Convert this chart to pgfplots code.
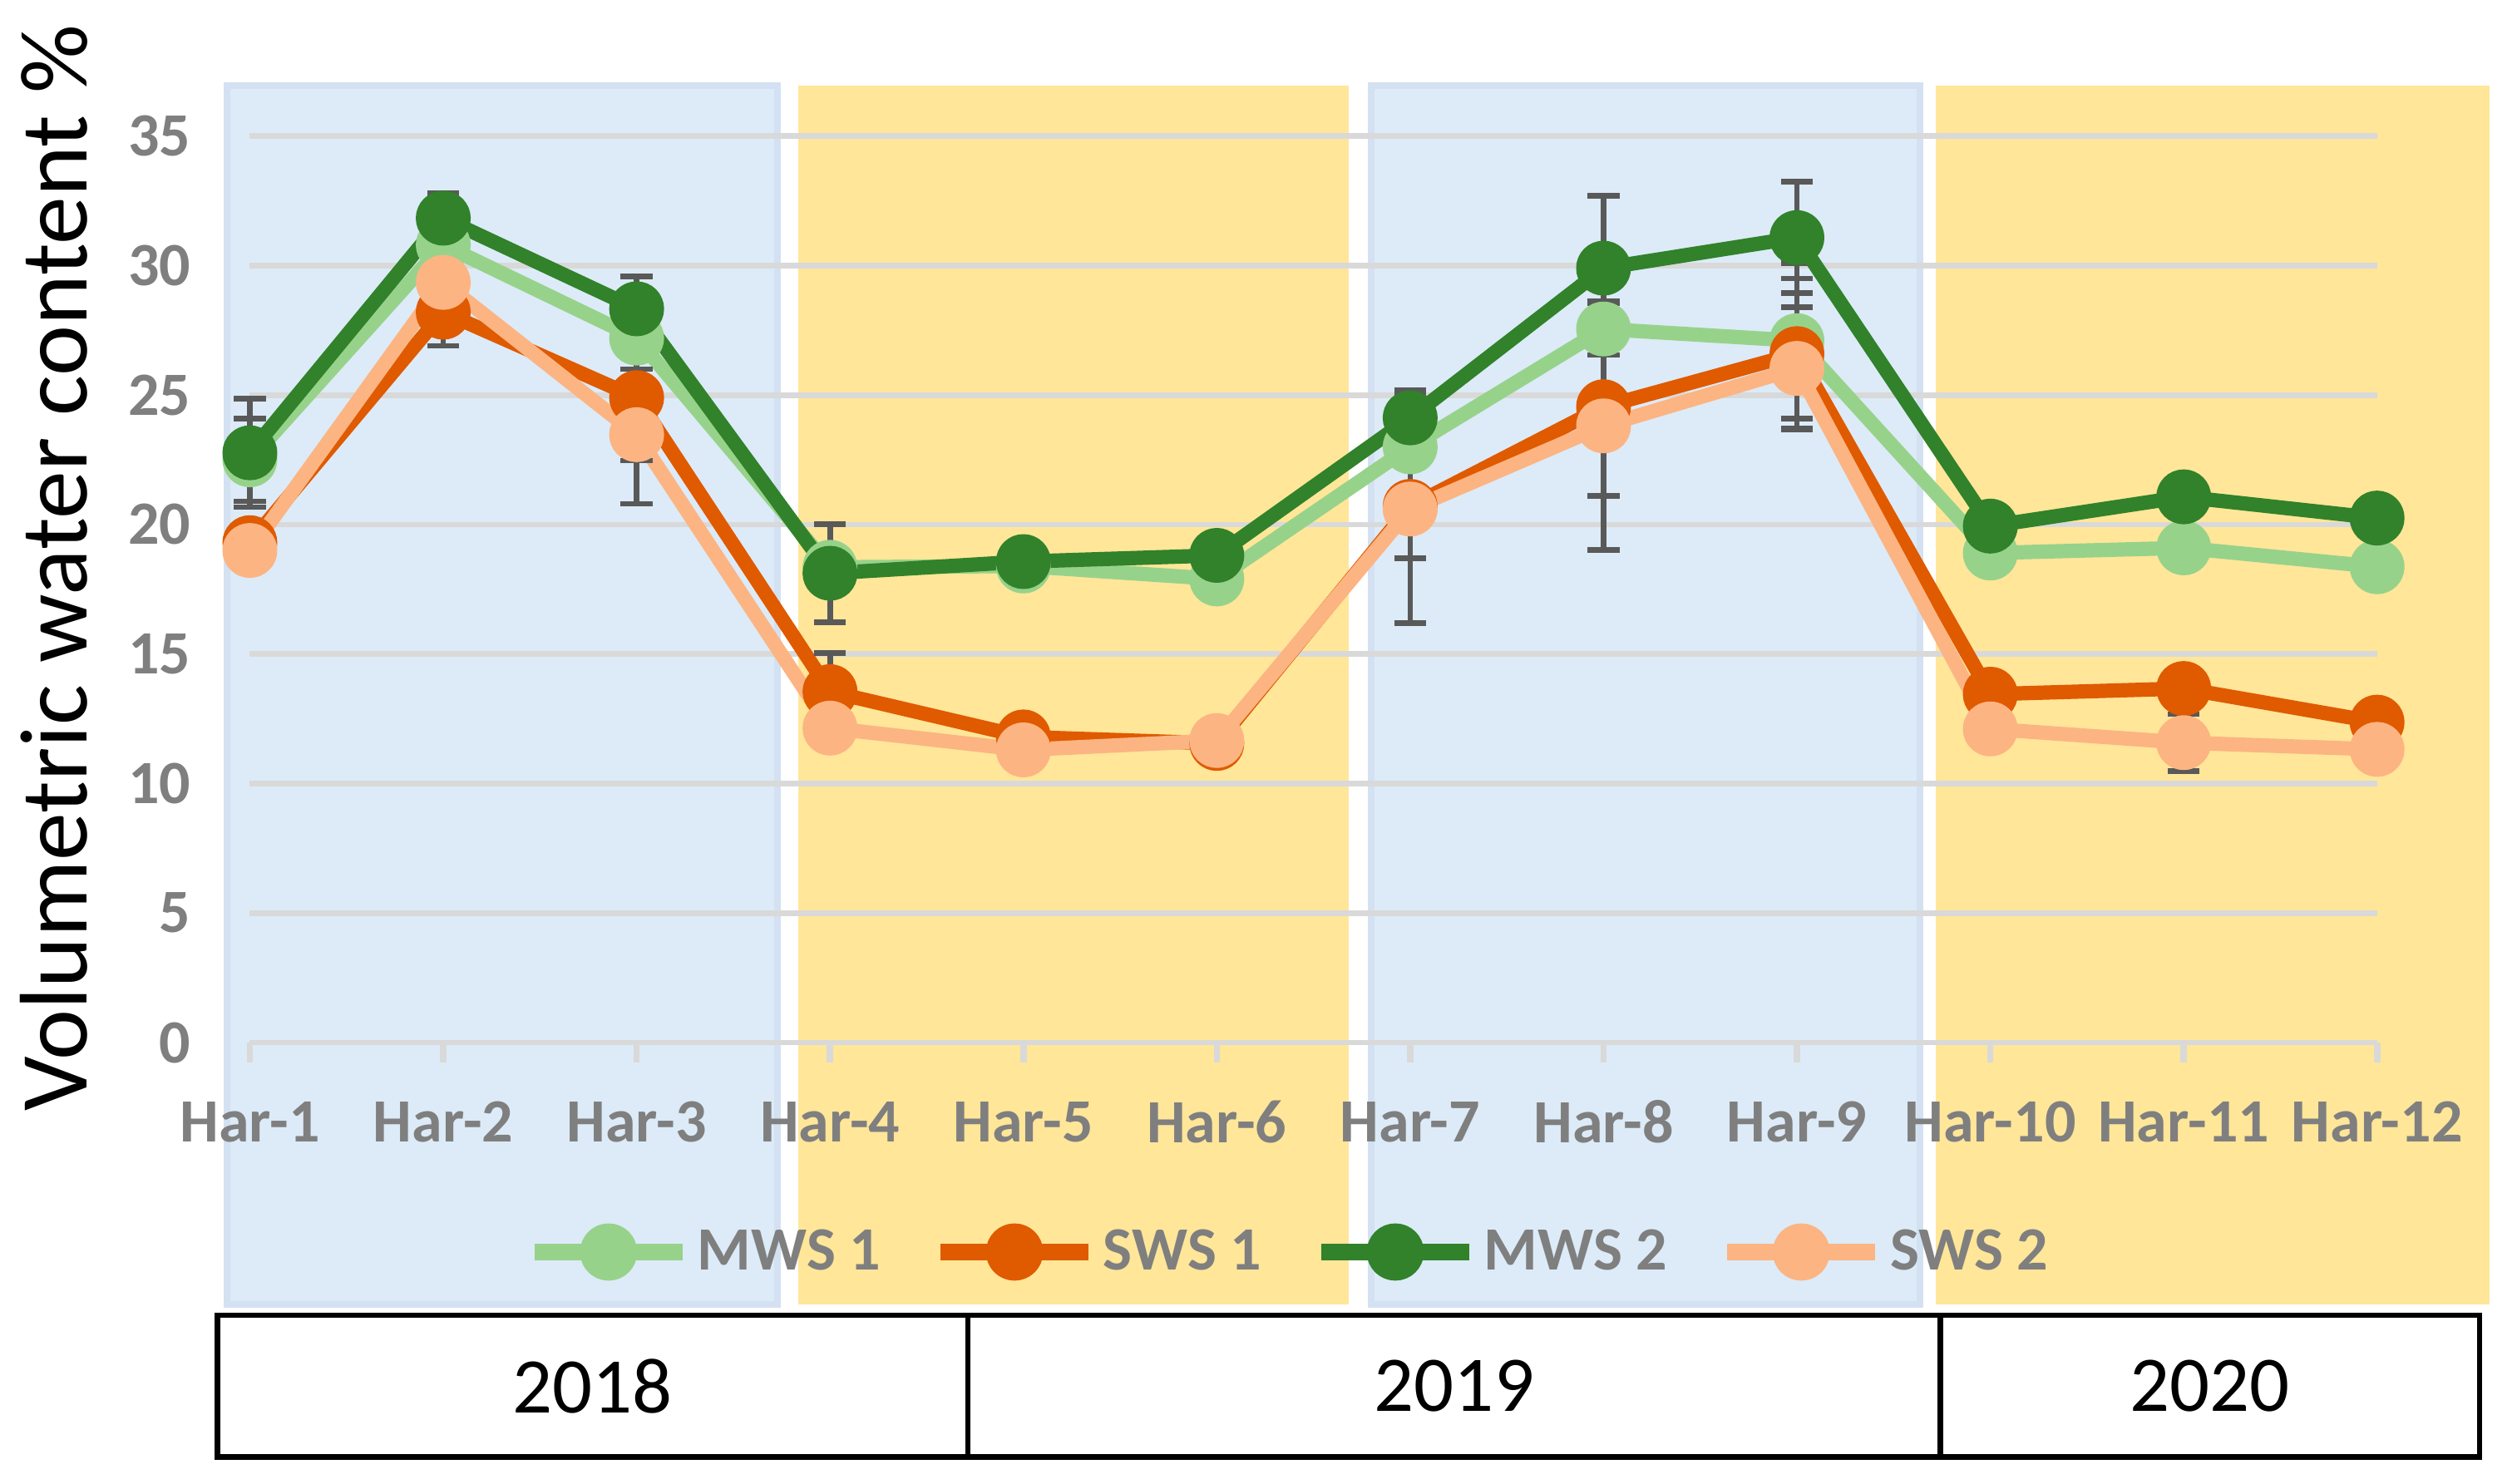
\documentclass[border=0pt]{standalone}
\usepackage{pgfplots}
\pgfplotsset{compat=1.18}
\usepackage{pgfplotstable}
\usepackage{fontspec}
\setmainfont{Carlito}
\definecolor{mwsA}{HTML}{97D28B}
\definecolor{swsA}{HTML}{E05A00}
\definecolor{mwsB}{HTML}{31822A}
\definecolor{swsB}{HTML}{FCB483}
\definecolor{bgblue}{HTML}{DCEBF7}
\definecolor{bgblueedge}{HTML}{D3E1F2}
\definecolor{bgyellow}{HTML}{FFE699}
\definecolor{gridgrey}{HTML}{D9D9D9}
\definecolor{tickgrey}{HTML}{7F7F7F}
\definecolor{errgrey}{HTML}{595959}

\pgfplotstableread{
x y e
0 22.5 1.6
1 30.8 0.8
2 27.2 1.2
3 18.35 0.3
4 18.4 0.2
5 17.9 0.56
6 23.0 0.5
7 27.55 1.0
8 27.1 3.0
9 18.9 0.4
10 19.1 0.64
11 18.37 0.7
}\mwsone
\pgfplotstableread{
x y e
0 19.3 0.5
1 28.2 1.3
2 24.9 4.1
3 13.55 1.5
4 11.8 0.2
5 11.55 0.2
6 20.7 2.0
7 24.55 3.44
8 26.6 2.9
9 13.45 0.5
10 13.67 0.5
11 12.37 0.3
}\swsone
\pgfplotstableread{
x y e
0 22.77 2.1
1 31.83 0.95
2 28.33 1.25
3 18.12 1.9
4 18.57 0.2
5 18.81 0.6
6 24.12 1.05
7 29.9 2.8
8 31.08 2.15
9 19.94 0.7
10 21.07 0.78
11 20.25 0.3
}\mwstwo
\pgfplotstableread{
x y e
0 19.0 0.5
1 29.35 1.6
2 23.47 1.0
3 12.14 0.7
4 11.3 0.2
5 11.66 0.2
6 20.6 4.4
7 23.81 4.8
8 26.03 2.37
9 12.11 0.73
10 11.58 1.1
11 11.32 0.3
}\swstwo

\begin{document}
\begin{tikzpicture}
\begin{axis}[
  set layers,
  at={(0,0)}, anchor=south west,
  scale only axis, width=639.55pt, height=272.58pt,
  xmin=0, xmax=11, ymin=0, ymax=35,
  clip=false,
  axis line style={draw=none},
  ymajorgrids, grid style={color=gridgrey, line width=1.67pt},
  ytick={0,5,...,35},
  xtick={0,...,11},
  xticklabels={Har-1,Har-2,Har-3,Har-4,Har-5,Har-6,Har-7,Har-8,Har-9,Har-10,Har-11,Har-12},
  tick pos=left,
  tick align=outside,
  major tick length=6pt,
  xtick style={draw=gridgrey, line width=1.9pt},
  ytick style={draw=none},
  /pgf/number format/assume math mode=true,
  ticklabel style={font=\fontsize{18.5}{22}\selectfont\bfseries, text=tickgrey},
  yticklabel style={anchor=east, inner sep=0pt, xshift=-11.6pt},
  xticklabel style={anchor=center, inner sep=0pt, yshift=-17.9pt},
  every axis y label/.style={at={(axis description cs:-0.0921,0.5237)}, rotate=90, anchor=center, font=\fontsize{28.9}{34}\selectfont},
  ylabel={Volumetric water content \%},
  legend columns=4,
  legend style={at={(0.4893,-0.2311)}, anchor=center, draw=none, fill=none,
    font=\fontsize{18.5}{22}\selectfont\bfseries, text=tickgrey,
    /tikz/every even column/.append style={column sep=13.5pt}},
  legend image code/.code={\draw[mark repeat=2, mark phase=2, #1, line width=5pt] plot coordinates {(0pt,0pt) (22.2pt,0pt) (44.4pt,0pt)};},
  every axis plot/.append style={line width=4.3pt, line join=round, mark=*, mark size=6.1pt,
    error bars/y dir=both, error bars/y explicit,
    error bars/error bar style={color=errgrey, line width=1.7pt},
    error bars/error mark options={rotate=90, color=errgrey, mark size=4.8pt, line width=1.7pt}},
]
\begin{pgfonlayer}{axis background}
  \fill[bgblue, draw=bgblueedge, line width=2pt] (axis cs:-0.118,-10.11) rectangle (axis cs:2.728,36.96);
  \fill[bgyellow] (axis cs:2.836,-10.11) rectangle (axis cs:5.681,36.96);
  \fill[bgblue, draw=bgblueedge, line width=2pt] (axis cs:5.798,-10.11) rectangle (axis cs:8.635,36.96);
  \fill[bgyellow] (axis cs:8.718,-10.11) rectangle (axis cs:11.581,36.96);
\end{pgfonlayer}

\addplot[mwsA, mark options={draw=none, fill=mwsA}] table[x=x, y=y, y error=e] {\mwsone};
\addlegendentry{MWS 1}
\addplot[swsA, mark options={draw=none, fill=swsA}] table[x=x, y=y, y error=e] {\swsone};
\addlegendentry{SWS 1}
\addplot[mwsB, mark options={draw=none, fill=mwsB}] table[x=x, y=y, y error=e] {\mwstwo};
\addlegendentry{MWS 2}
\addplot[swsB, mark options={draw=none, fill=swsB}] table[x=x, y=y, y error=e] {\swstwo};
\addlegendentry{SWS 2}

\draw[black, line width=1.6pt] (axis cs:-0.168,-10.52) rectangle (axis cs:11.530,-16.0);
\draw[black, line width=1.6pt] (axis cs:3.713,-10.52) -- (axis cs:3.713,-16.0);
\draw[black, line width=1.6pt] (axis cs:8.742,-10.52) -- (axis cs:8.742,-16.0);
\node[font=\fontsize{23.7}{28}\selectfont] at (axis cs:1.773,-13.26) {2018};
\node[font=\fontsize{23.7}{28}\selectfont] at (axis cs:6.228,-13.26) {2019};
\node[font=\fontsize{23.7}{28}\selectfont] at (axis cs:10.136,-13.26) {2020};
\end{axis}
\pgfresetboundingbox
\useasboundingbox (-75.125pt,-132.75pt) rectangle (681.625pt,313.5pt);
\end{tikzpicture}
\end{document}
